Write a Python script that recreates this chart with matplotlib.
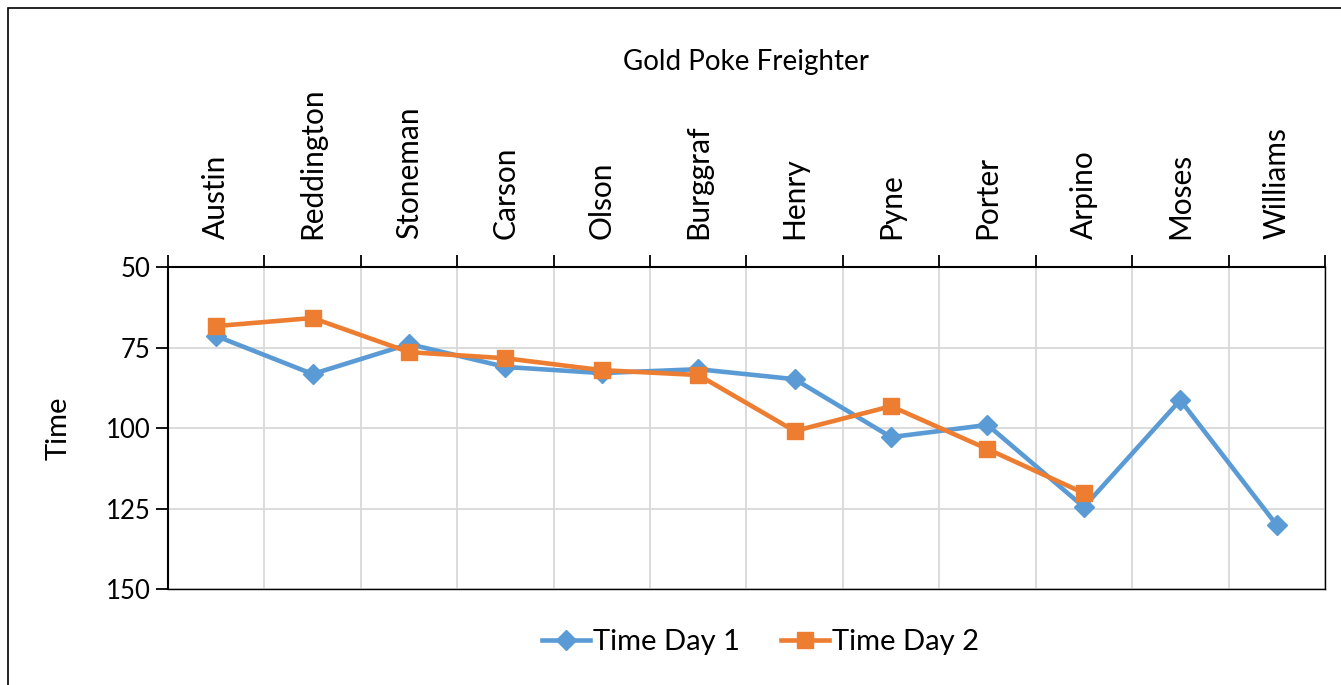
import numpy as np
import matplotlib.pyplot as plt
from matplotlib.patches import Rectangle

plt.rcParams['font.family'] = ['Lato', 'DejaVu Sans']

# Chart data
riders = ["Austin", "Reddington", "Stoneman", "Carson", "Olson", "Burggraf",
          "Henry", "Pyne", "Porter", "Arpino", "Moses", "Williams"]
time_day1 = [71.4, 83.2, 73.9, 81.0, 82.9, 81.7, 84.8, 102.8, 99.0, 124.5, 91.3, 130.1]
time_day2 = [68.3, 65.8, 76.4, 78.3, 82.0, 83.5, 100.9, 93.2, 106.5, 120.2, np.nan, np.nan]
y_ticks = [50, 75, 100, 125, 150]

blue = "#5b9bd5"
orange = "#ed7d31"

fig = plt.figure(figsize=(13.41, 6.85), dpi=100)
ax = fig.add_axes([0.1253, 0.140, 0.8627, 0.470])

x = np.arange(len(riders))
ax.plot(x, time_day1, color=blue, lw=3.3, marker="D", ms=10,
        label="Time Day 1", zorder=3)
ax.plot(x, time_day2, color=orange, lw=3.3, marker="s", ms=12,
        label="Time Day 2", zorder=4)

# Axis setup: reversed y, category labels on top
ax.set_ylim(150, 50)
ax.set_yticks(y_ticks)
ax.set_xlim(-0.5, len(riders) - 0.5)
ax.xaxis.tick_top()
ax.set_xticks(x)
ax.set_xticklabels(riders, rotation=90, fontsize=21.5)
ax.set_xticks(np.arange(-0.5, len(riders)), minor=True)
ax.tick_params(axis="x", which="major", length=0, pad=20)
ax.tick_params(axis="x", which="minor", length=9, width=1.3, top=True,
               bottom=False, direction="out")
ax.tick_params(axis="y", which="major", length=9, width=1.3, labelsize=18.5)

ax.grid(True, axis="y", color="#d9d9d9", lw=1.3)
ax.grid(True, axis="x", which="minor", color="#d9d9d9", lw=1.3)
ax.set_axisbelow(True)
for s in ax.spines.values():
    s.set_color("black")
    s.set_linewidth(1.0)
ax.spines["top"].set_linewidth(1.5)
ax.spines["left"].set_linewidth(1.5)

ax.set_ylabel("Time", fontsize=21)
ax.yaxis.set_label_coords(-0.083, 0.5)
fig.text(0.556, 0.910, "Gold Poke Freighter", ha="center", va="center", fontsize=20)

ax.legend(loc="center", bbox_to_anchor=(0.512, -0.165), ncol=2, frameon=False,
          fontsize=21, handlelength=1.65, handletextpad=0.1, columnspacing=1.4)

# chart outer border
fig.patches.append(Rectangle((8 / 1341, -0.01), 1.5, 1 - 8 / 685 + 0.01,
                             transform=fig.transFigure, fill=False,
                             edgecolor="black", lw=1.2))

plt.savefig("out.png", dpi=100)
